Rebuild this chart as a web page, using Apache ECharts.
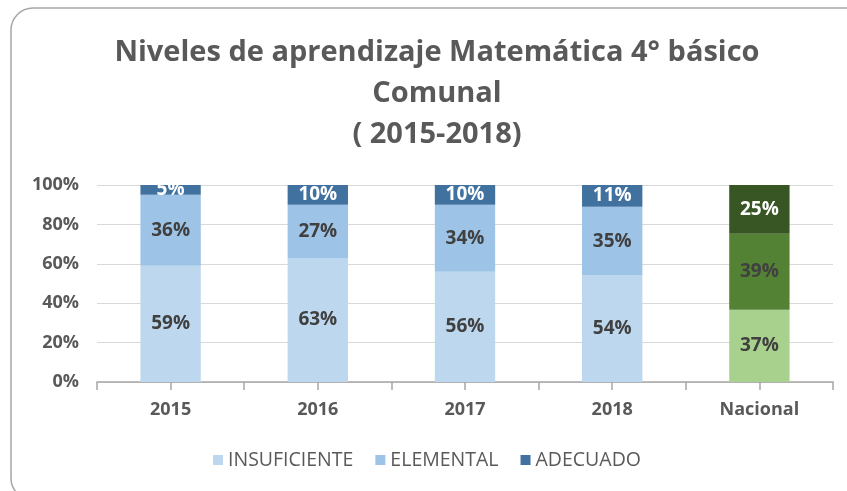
<!DOCTYPE html>
<html>
<head>
<meta charset="utf-8">
<script src="https://cdn.jsdelivr.net/npm/echarts@6/dist/echarts.min.js"></script>
<style>
  html, body { margin: 0; padding: 0; background: #fff; }
  #chart { width: 847px; height: 491px; }
</style>
</head>
<body>
<div id="chart"></div>
<script>
// datos del grafico (porcentajes tal como se leen en la imagen)
var categorias = ['2015', '2016', '2017', '2018', 'Nacional'];
var insuficiente = [59, 63, 56, 54, 37];
var elemental = [36, 27, 34, 35, 39];
var adecuado = [5, 10, 10, 11, 25];
var yTicks = ['0%', '20%', '40%', '60%', '80%', '100%'];

// colores: azules para la comuna, verdes para el nacional
var coloresComuna = ['#bdd7ee', '#9dc3e6', '#41729f'];
var coloresNacional = ['#a9d18e', '#548235', '#375623'];
var etiquetaColor = ['#404040', '#404040', '#ffffff'];

var fuente = '"Open Sans", "Liberation Sans", sans-serif';
var chart = echarts.init(document.getElementById('chart'));

// barras 100% apiladas como en Excel
function normalizar(i, arr) {
  var total = insuficiente[i] + elemental[i] + adecuado[i];
  return arr[i] / total * 100;
}

function serie(nombre, arr, k) {
  var data = [];
  for (var i = 0; i < categorias.length; i++) {
    var item = { value: normalizar(i, arr), raw: arr[i] };
    if (categorias[i] == 'Nacional') {
      item.itemStyle = { color: coloresNacional[k] };
    }
    data.push(item);
  }
  return {
    name: nombre,
    type: 'bar',
    stack: 'total',
    barWidth: '41%',
    xAxisIndex: 0,
    itemStyle: { color: coloresComuna[k] },
    label: {
      show: true,
      position: 'inside',
      fontFamily: fuente,
      fontWeight: 'bold',
      fontSize: 19,
      color: etiquetaColor[k],
      formatter: function (p) { return p.data.raw + '%'; }
    },
    data: data
  };
}

var option = {
  backgroundColor: '#fff',
  animation: false,
  graphic: [{
    type: 'rect',
    shape: { x: 11, y: 8, width: 860, height: 492, r: 22 },
    style: { fill: 'none', stroke: '#a6a6a6', lineWidth: 1.5 },
    silent: true
  }],
  title: {
    text: 'Niveles de aprendizaje Matemática 4° básico\nComunal\n( 2015-2018)',
    left: 432,
    textAlign: 'center',
    top: 27,
    textStyle: {
      fontFamily: fuente,
      fontWeight: 'bold',
      fontSize: 29,
      lineHeight: 41,
      color: '#595959'
    }
  },
  legend: {
    bottom: 16,
    left: 208,
    itemWidth: 10,
    itemHeight: 10,
    itemGap: 22,
    icon: 'rect',
    textStyle: { fontFamily: fuente, fontSize: 19.5, color: '#595959' },
    data: ['INSUFICIENTE', 'ELEMENTAL', 'ADECUADO']
  },
  grid: { left: 97, right: 14, top: 185, bottom: 109 },
  xAxis: [{
    type: 'category',
    data: categorias,
    axisLine: { lineStyle: { color: '#a6a6a6', width: 1.5 } },
    axisTick: { show: true, length: 8, lineStyle: { color: '#a6a6a6', width: 1.5 } },
    axisLabel: {
      fontFamily: fuente, fontWeight: 'bold', fontSize: 18,
      color: '#595959', margin: 19
    }
  }, {
    type: 'category',
    position: 'bottom',
    data: categorias,
    axisLine: { show: false },
    axisTick: { show: true, alignWithLabel: true, length: 8, lineStyle: { color: '#a6a6a6', width: 1.5 } },
    axisLabel: { show: false }
  }],
  yAxis: {
    type: 'value',
    min: 0,
    max: 100,
    interval: 20,
    axisLine: { show: false },
    axisTick: { show: false },
    splitLine: { lineStyle: { color: '#d9d9d9', width: 1.2 } },
    axisLabel: {
      fontFamily: fuente, fontWeight: 'bold', fontSize: 18,
      color: '#595959', margin: 18,
      formatter: function (v) { return yTicks[v / 20]; }
    }
  },
  series: [
    serie('INSUFICIENTE', insuficiente, 0),
    serie('ELEMENTAL', elemental, 1),
    serie('ADECUADO', adecuado, 2)
  ]
};

chart.setOption(option);
</script>
</body>
</html>
